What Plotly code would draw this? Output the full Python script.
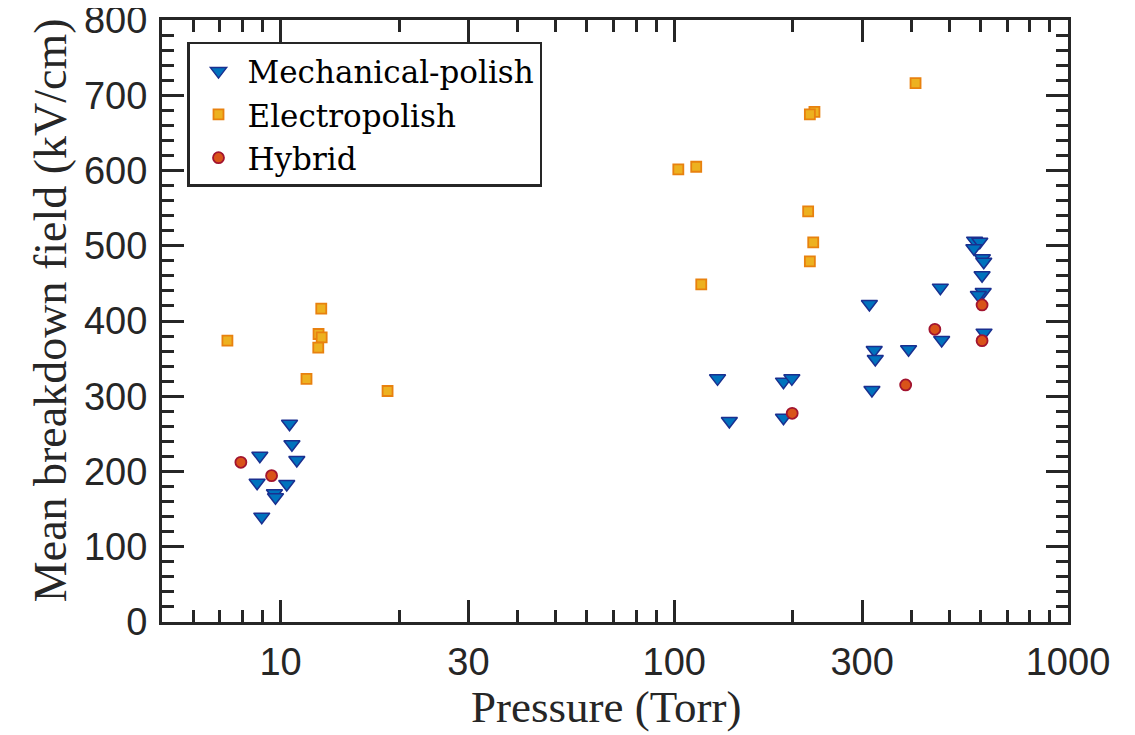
import plotly.graph_objects as go

# ---- data ----
mech_p = [10.54, 10.69, 11.0, 8.86, 8.72, 10.37, 9.65, 9.71, 8.96,
          313, 322, 324, 393.6, 317.7, 128.8, 189.4, 198.9, 138, 189.4,
          474, 477.7,
          579, 597, 576.7, 606, 611, 605, 609, 592, 612]
mech_v = [263.5, 236.1, 215.3, 221, 185.1, 183.4, 171, 165.7, 140,
          422.6, 361.5, 349.5, 362.4, 308.3, 323.8, 319.4, 323.8, 267.1, 271.5,
          444.3, 374.8,
          506.8, 505.4, 496.6, 483.3, 478.8, 460.7, 438.5, 434.6, 384.5]

electro_p = [7.33, 12.69, 12.49, 12.72, 12.47, 11.64, 18.7,
             410, 227, 221, 102.4, 113.7, 218.8, 225.4, 221, 117.1]
electro_v = [374, 416.4, 382.7, 378.3, 364.5, 323, 307,
             716, 678, 674.7, 601.6, 605, 545.8, 504.6, 479.3, 448.7]

hybrid_p = [7.93, 9.49, 199.3, 387, 459, 605, 605]
hybrid_v = [212.2, 194.5, 277.3, 315, 389, 421.3, 373.9]

x_major = [10, 30, 100, 300, 1000]
x_major_text = ["10", "30", "100", "300", "1000"]
x_minor = [6, 7, 8, 9, 20, 40, 50, 60, 70, 80, 90, 200, 400, 500, 600, 700, 800, 900]
y_major = [0, 100, 200, 300, 400, 500, 600, 700, 800]

AX = "#262626"
SERIF = "Liberation Serif, Times New Roman, serif"
LEG_SERIF = "DejaVu Serif, serif"
SANS = "Liberation Sans, Arial, sans-serif"

fig = go.Figure()
fig.add_trace(go.Scatter(
    x=mech_p, y=mech_v, mode="markers", name="Mechanical-polish",
    marker=dict(symbol="triangle-down", size=14, color="#0072BD",
                line=dict(color="#1a2f8f", width=1.5))))
fig.add_trace(go.Scatter(
    x=electro_p, y=electro_v, mode="markers", name="Electropolish",
    marker=dict(symbol="square", size=10, color="#EDB120",
                line=dict(color="#E8810F", width=1.8))))
fig.add_trace(go.Scatter(
    x=hybrid_p, y=hybrid_v, mode="markers", name="Hybrid",
    marker=dict(symbol="circle", size=11, color="#D95319",
                line=dict(color="#A2142F", width=1.8))))

# page body has an 8px margin, so the figure is offset by (8, 8)
fig.update_layout(
    width=1127, height=727,
    margin=dict(l=154, r=67, t=12, b=113),
    paper_bgcolor="white", plot_bgcolor="white",
    showlegend=True,
    legend=dict(x=0.0276, y=0.9635, xanchor="left", yanchor="top",
                bgcolor="white", bordercolor=AX, borderwidth=2.5,
                font=dict(family=LEG_SERIF, size=31, color="black"),
                itemwidth=48, tracegroupgap=0),
    annotations=[
        dict(text="Pressure (Torr)", xref="paper", yref="paper",
             x=0.491, y=-0.142, xanchor="center", yanchor="middle",
             showarrow=False, font=dict(family=SERIF, size=45, color=AX)),
        dict(text="Mean breakdown field (kV/cm)", xref="paper", yref="paper",
             x=-0.1236, y=0.518, xanchor="center", yanchor="middle",
             textangle=-90, showarrow=False,
             font=dict(family=SERIF, size=46, color=AX)),
    ],
)
fig.update_xaxes(
    type="log", range=[0.69897, 3], automargin=False,
    tickmode="array", tickvals=x_major, ticktext=x_major_text,
    ticks="inside", ticklen=22, tickwidth=2.8, tickcolor=AX,
    minor=dict(tickmode="array", tickvals=x_minor, ticks="inside",
               ticklen=12, tickwidth=2.8, tickcolor=AX, showgrid=False),
    showline=True, linewidth=3, linecolor=AX, mirror="ticks",
    showgrid=False, zeroline=False,
    tickfont=dict(family=SANS, size=38, color=AX),
    ticklabelstandoff=4, ticklabeloverflow="allow",
)
fig.update_yaxes(
    range=[0, 800], automargin=False,
    tickmode="array", tickvals=y_major,
    ticks="inside", ticklen=22, tickwidth=2.8, tickcolor=AX,
    minor=dict(dtick=20, tick0=0, ticks="inside", ticklen=12, tickwidth=2.8,
               tickcolor=AX, showgrid=False),
    showline=True, linewidth=3, linecolor=AX, mirror="ticks",
    showgrid=False, zeroline=False,
    tickfont=dict(family=SANS, size=38, color=AX),
    ticklabelstandoff=4, ticklabeloverflow="allow",
)

fig.write_html("out.html")
